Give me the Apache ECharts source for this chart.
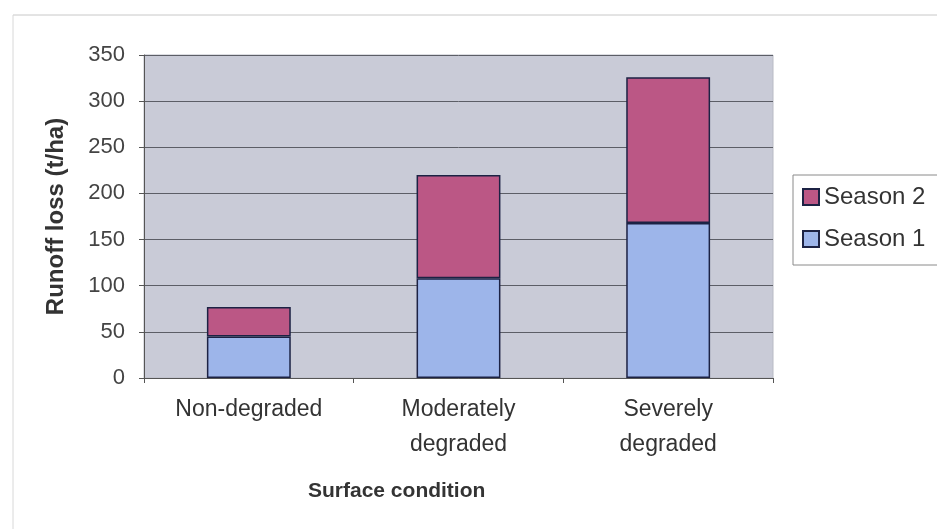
<!DOCTYPE html>
<html>
<head>
<meta charset="utf-8">
<script src="https://cdn.jsdelivr.net/npm/echarts@6/dist/echarts.min.js"></script>
<style>html,body{margin:0;padding:0;background:#fff;}#c{width:937px;height:529px;}</style>
</head>
<body>
<div id="c"></div>
<script>
const categories = ['Non-degraded', 'Moderately\ndegraded', 'Severely\ndegraded'];
const season1 = [45, 108, 168];
const season2 = [32, 112, 158];
const yTicks = [0, 50, 100, 150, 200, 250, 300, 350];

const chart = echarts.init(document.getElementById('c'));
const FONT = 'Liberation Sans, Arial, sans-serif';
chart.setOption({
  animation: false,
  backgroundColor: '#ffffff',
  textStyle: { fontFamily: FONT },
  grid: {
    left: 144, right: 164, top: 55, bottom: 151,
    show: true, backgroundColor: '#c9cbd7', borderColor: '#b8bac4', borderWidth: 1
  },
  legend: {
    orient: 'vertical', left: 793, top: 175,
    data: ['Season 2', 'Season 1'],
    itemWidth: 16, itemHeight: 16, itemGap: 18,
    padding: [10, 40, 14, 9],
    borderColor: '#8a8a8a', borderWidth: 1,
    textStyle: { fontSize: 24, color: '#333', fontFamily: FONT },
    icon: 'rect'
  },
  xAxis: {
    type: 'category',
    data: categories,
    axisLine: { lineStyle: { color: '#555', width: 1 } },
    axisTick: { show: true, length: 5, lineStyle: { color: '#555' } },
    axisLabel: { fontSize: 23, color: '#333', lineHeight: 35, margin: 14, fontFamily: FONT }
  },
  yAxis: {
    type: 'value', min: yTicks[0], max: yTicks[yTicks.length - 1], interval: 50,
    name: 'Runoff loss (t/ha)', nameLocation: 'middle', nameGap: 76,
    nameTextStyle: { fontSize: 24, fontWeight: 'bold', color: '#333', fontFamily: FONT },
    axisLine: { show: true, lineStyle: { color: '#555', width: 1 } },
    axisTick: { show: true, length: 5, lineStyle: { color: '#555' } },
    axisLabel: { fontSize: 22, color: '#444', margin: 19, fontFamily: FONT },
    splitLine: { lineStyle: { color: '#5c5e66', width: 1 } }
  },
  graphic: [
    { type: 'text', left: 400 - 92, top: 481,
      style: { text: 'Surface condition', font: 'bold 21px ' + FONT, fill: '#333' } },
    { type: 'line', shape: { x1: 13, y1: 15, x2: 937, y2: 15 }, style: { stroke: '#c8c8c8', lineWidth: 1 } },
    { type: 'line', shape: { x1: 13, y1: 15, x2: 13, y2: 529 }, style: { stroke: '#d8d8d8', lineWidth: 1 } }
  ],
  series: [
    { name: 'Season 1', type: 'bar', stack: 'a', data: season1, barWidth: '40%',
      itemStyle: { color: '#9db5ea', borderColor: '#1c2244', borderWidth: 1.5 } },
    { name: 'Season 2', type: 'bar', stack: 'a', data: season2, barWidth: '40%',
      itemStyle: { color: '#bb5785', borderColor: '#1c2244', borderWidth: 1.5 } }
  ]
});
</script>
</body>
</html>
